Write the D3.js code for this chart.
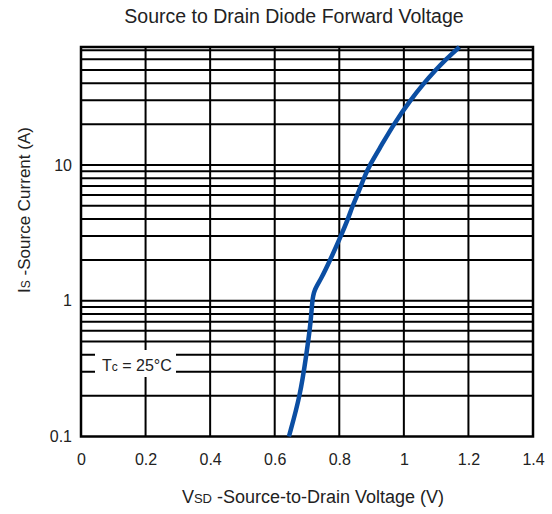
<!DOCTYPE html>
<html>
<head>
<meta charset="utf-8">
<script src="https://cdn.jsdelivr.net/npm/d3@7"></script>
<style>
  body { margin: 0; background: #fff; }
  text { font-family: "Liberation Sans", Arial, sans-serif; fill: #222; }
</style>
</head>
<body>
<svg id="chart" width="552" height="514"></svg>
<script>
// curve: forward voltage (V) vs source current (A)
var vsd = [0.644, 0.679, 0.698, 0.712, 0.716, 0.722, 0.744, 0.772, 0.805, 0.827, 0.841, 0.856, 0.876, 0.894, 0.931, 0.969, 1.02, 1.062, 1.098, 1.13, 1.172];
var isd = [0.1, 0.2, 0.4, 0.7, 1.0, 1.2, 1.45, 2, 3, 4, 5, 6, 8, 10, 14, 20, 30, 40, 50, 60, 74];

// axis ticks and grid
var xTicks = [0, 0.2, 0.4, 0.6, 0.8, 1, 1.2, 1.4];
var yTicks = [0.1, 1, 10];
var yGrid = [0.2, 0.3, 0.4, 0.5, 0.6, 0.7, 0.8, 0.9, 1, 2, 3, 4, 5, 6, 7, 8, 9, 10, 20, 30, 40, 50, 60, 70];

var svg = d3.select('#chart');
var plotL = 81, plotR = 533, plotT = 47, plotB = 436.5;

var x = d3.scaleLinear().domain([0, 1.4]).range([plotL, plotR]);
var y = d3.scaleLog().domain([0.1, 74]).range([plotB, plotT]);

//title
svg.append('text')
  .attr('x', 294).attr('y', 23)
  .attr('text-anchor', 'middle')
  .style('font-size', '19.5px')
  .text('Source to Drain Diode Forward Voltage');

//grid
var grid = svg.append('g').style('stroke', '#000').style('stroke-width', 2);
grid.selectAll('.hline')
  .data(yGrid)
  .join('line')
  .attr('x1', plotL).attr('x2', plotR)
  .attr('y1', d => y(d)).attr('y2', d => y(d));
grid.selectAll('.vline')
  .data(xTicks)
  .join('line')
  .attr('y1', plotT).attr('y2', plotB)
  .attr('x1', d => x(d)).attr('x2', d => x(d));
grid.append('rect')
  .attr('x', plotL).attr('y', plotT)
  .attr('width', plotR - plotL).attr('height', plotB - plotT)
  .style('fill', 'none').style('stroke-width', 2.5);

//Tc label with white box
svg.append('rect')
  .attr('x', 95).attr('y', 350)
  .attr('width', 81).attr('height', 27)
  .style('fill', '#fff');
var tc = svg.append('text')
  .attr('x', 102).attr('y', 371)
  .style('font-size', '16px');
tc.append('tspan').text('T');
tc.append('tspan').style('font-size', '12px').text('c');
tc.append('tspan').text(' = 25°C');

//curve
var pts = vsd.map((v, i) => [v, isd[i]]);
svg.append('path')
  .datum(pts)
  .attr('d', d3.line().x(d => x(d[0])).y(d => y(d[1])).curve(d3.curveBasis))
  .style('fill', 'none')
  .style('stroke', '#0b4ea3')
  .style('stroke-width', 4.5)
  .style('stroke-linecap', 'butt');

//axes
svg.append('g')
  .attr('transform', `translate(0,${plotB})`)
  .call(d3.axisBottom(x).tickValues(xTicks).tickSize(0).tickPadding(17).tickFormat(d3.format('')));
svg.append('g')
  .attr('transform', `translate(${plotL},0)`)
  .call(d3.axisLeft(y).tickValues(yTicks).tickSize(0).tickPadding(9).tickFormat(d => d));
svg.selectAll('.domain').remove();
svg.selectAll('.tick text').style('font-size', '16px').style('fill', '#222').style('font-family', '"Liberation Sans", Arial, sans-serif');

//axis titles
var xl = svg.append('text')
  .attr('x', 313).attr('y', 503)
  .attr('text-anchor', 'middle')
  .style('font-size', '18px');
xl.append('tspan').text('V');
xl.append('tspan').style('font-size', '13px').text('SD');
xl.append('tspan').text(' -Source-to-Drain Voltage (V)');

var yl = svg.append('text')
  .attr('transform', 'translate(30,210) rotate(-90)')
  .attr('text-anchor', 'middle')
  .style('font-size', '17px');
yl.append('tspan').text('I');
yl.append('tspan').style('font-size', '12px').text('S');
yl.append('tspan').text(' -Source Current (A)');
</script>
</body>
</html>
